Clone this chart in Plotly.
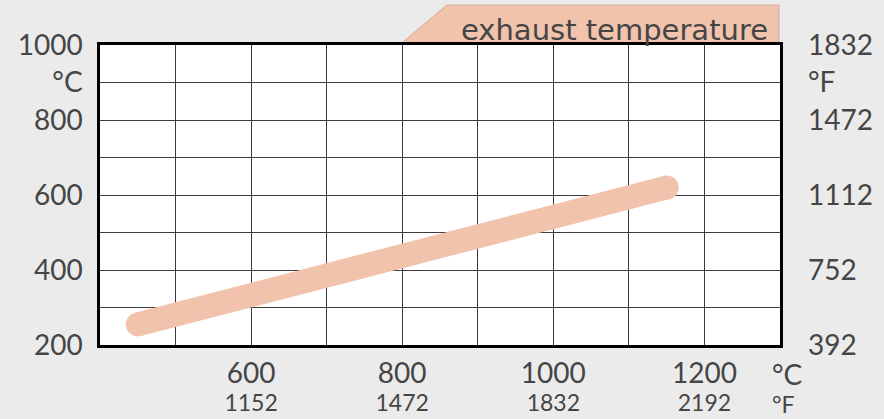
import plotly.graph_objects as go

# data
line_x_c = [450, 1150]
line_y_c = [255, 620]

x_tick_vals = [600, 800, 1000, 1200]
x_tick_c = ["600", "800", "1000", "1200"]
x_tick_f = ["1152", "1472", "1832", "2192"]

y_tick_vals = [200, 400, 600, 800, 900, 1000]
y_tick_c = ["200", "400", "600", "800", "°C", "1000"]
y_tick_f = ["392", "752", "1112", "1472", "°F", "1832"]

title_text = "exhaust temperature"

FONT = "Lato"
TXT = "#454545"
BG = "#ebebeb"
PEACH = "#f2c3ac"
GRID = "#3c3c3c"

fig = go.Figure()
fig.add_trace(go.Scatter(x=line_x_c, y=line_y_c, mode="lines+markers",
                         line=dict(color=PEACH, width=24),
                         marker=dict(color=PEACH, size=24, line=dict(width=0)),
                         hoverinfo="skip", showlegend=False))
# invisible traces for secondary axes
fig.add_trace(go.Scatter(x=[line_x_c[0]], y=[line_y_c[0]], yaxis="y2", mode="markers",
                         marker=dict(opacity=0), showlegend=False, hoverinfo="skip"))
fig.add_trace(go.Scatter(x=[line_x_c[0]], y=[line_y_c[0]], xaxis="x2", mode="markers",
                         marker=dict(opacity=0), showlegend=False, hoverinfo="skip"))

grid_minor = dict(showgrid=True, dtick=100, gridcolor=GRID, gridwidth=1.4)

fig.update_layout(
    width=884, height=419,
    paper_bgcolor=BG, plot_bgcolor="white",
    margin=dict(l=100, r=104, t=45, b=74, autoexpand=False),
    font=dict(family=FONT, color=TXT, size=28),
    xaxis=dict(range=[400, 1300], tickmode="array", tickvals=x_tick_vals, ticktext=x_tick_c,
               showgrid=False, zeroline=False, showline=True, linecolor="black", linewidth=2.5,
               mirror=True, ticks="", tickfont=dict(size=28), automargin=False,
               ticklabelstandoff=2,
               minor=dict(grid_minor, tick0=400)),
    xaxis2=dict(range=[400, 1300], overlaying="x", side="bottom", tickmode="array",
                tickvals=x_tick_vals, ticktext=x_tick_f, showgrid=False, zeroline=False,
                showline=False, ticks="", tickfont=dict(size=23), automargin=False,
                ticklabelstandoff=42),
    yaxis=dict(range=[200, 1000], tickmode="array", tickvals=y_tick_vals, ticktext=y_tick_c,
               showgrid=False, zeroline=False, showline=True, linecolor="black", linewidth=2.5,
               mirror=True, ticks="", tickfont=dict(size=28), automargin=False,
               ticklabelstandoff=9,
               minor=dict(grid_minor, tick0=200)),
    yaxis2=dict(range=[200, 1000], overlaying="y", side="right", tickmode="array",
                tickvals=y_tick_vals, ticktext=y_tick_f, showgrid=False, zeroline=False,
                ticks="", tickfont=dict(size=28), automargin=False, ticklabelstandoff=27),
)

# title tab
fig.add_shape(type="path", xref="paper", yref="paper",
              path="M 0.444,1.007 L 0.510,1.133 L 0.9985,1.133 L 0.9985,1.007 Z",
              fillcolor=PEACH, line=dict(color="#d9a890", width=1), layer="below")
fig.add_annotation(text=title_text, xref="paper", yref="paper", x=0.985, y=1.05,
                   xanchor="right", yanchor="middle", showarrow=False,
                   font=dict(size=29, family="DejaVu Sans", color=TXT))

# unit labels bottom right
fig.add_annotation(text="°C", xref="paper", yref="paper",
                   x=0.986, y=-0.098, xanchor="left", yanchor="middle", showarrow=False,
                   font=dict(size=28, family=FONT, color=TXT))
fig.add_annotation(text="°F", xref="paper", yref="paper",
                   x=0.986, y=-0.197, xanchor="left", yanchor="middle", showarrow=False,
                   font=dict(size=23, family=FONT, color=TXT))

fig.write_html("out.html", config={"displayModeBar": False},
               post_script="document.body.style.margin='0';document.body.style.background='#ebebeb';")
